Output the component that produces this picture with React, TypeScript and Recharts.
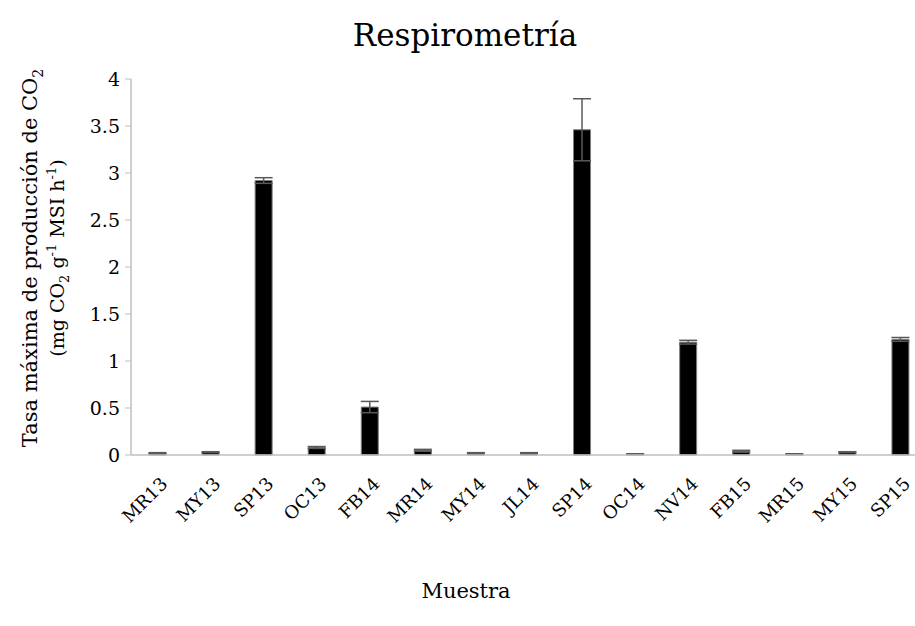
import React from 'react';
import { BarChart, Bar, XAxis, YAxis, ErrorBar } from 'recharts';

const categories = ['MR13', 'MY13', 'SP13', 'OC13', 'FB14', 'MR14', 'MY14', 'JL14', 'SP14', 'OC14', 'NV14', 'FB15', 'MR15', 'MY15', 'SP15'];
const values = [0.02, 0.03, 2.92, 0.08, 0.51, 0.05, 0.02, 0.02, 3.46, 0.01, 1.2, 0.04, 0.01, 0.03, 1.23];
const errors = [0.005, 0.005, 0.03, 0.01, 0.06, 0.01, 0.005, 0.005, 0.33, 0.003, 0.02, 0.01, 0.003, 0.005, 0.02];
const yTicks = [0, 0.5, 1, 1.5, 2, 2.5, 3, 3.5, 4];

const data = categories.map((name, i) => ({ name, value: values[i], err: errors[i] }));

const FONT = '"DejaVu Serif", serif';

// rotated category labels
const renderXTick = (props: any) => {
  const { x, y, payload } = props;
  const ax = x + 11;
  const ay = y + 22;
  return (
    <g>
      <text
        x={ax}
        y={ay}
        transform={`rotate(-45 ${ax} ${ay})`}
        textAnchor="end"
        fontFamily={FONT}
        fontSize={18}
        fill="#000"
      >
        {payload.value}
      </text>
    </g>
  );
};

export default function App() {
  return (
    <div style={{ position: 'absolute', left: 0, top: 0, width: 915, height: 626, overflow: 'hidden', background: '#fff' }}>
      <BarChart
        width={940}
        height={626}
        data={data}
        margin={{ top: 79, right: 13, bottom: 91, left: 0 }}
      >
        <XAxis
          dataKey="name"
          tick={renderXTick}
          tickLine={false}
          axisLine={{ stroke: '#bfbfbf', strokeWidth: 1.5 }}
          interval={0}
          height={80}
        />
        <YAxis
          domain={[0, 4]}
          ticks={yTicks}
          width={131}
          tickLine={{ stroke: '#bfbfbf' }}
          tickSize={6}
          axisLine={{ stroke: '#bfbfbf', strokeWidth: 1.5 }}
          tick={{ fontFamily: FONT, fontSize: 19, fill: '#000' }}
          tickMargin={5}
        />
        <Bar dataKey="value" fill="#000" stroke="#7f7f7f" strokeWidth={1} barSize={17} isAnimationActive={false}>
          <ErrorBar dataKey="err" width={9} stroke="#595959" strokeWidth={1.5} />
        </Bar>
        <text x={465} y={46} textAnchor="middle" fontFamily={FONT} fontSize={31} fill="#000">
          Respirometría
        </text>
        <text x={466} y={598} textAnchor="middle" fontFamily={FONT} fontSize={21} fill="#000">
          Muestra
        </text>
        <g transform="translate(37 258) rotate(-90)">
          <text x={0} y={0} textAnchor="middle" fontFamily={FONT} fontSize={21} fill="#000">
            Tasa máxima de producción de CO<tspan fontSize={14} dy={6}>2</tspan>
          </text>
          <text x={0} y={27} textAnchor="middle" fontFamily={FONT} fontSize={19} fill="#000">
            (mg CO<tspan fontSize={13} dy={5}>2</tspan>
            <tspan dy={-5}> g</tspan>
            <tspan fontSize={13} dy={-8}>-1</tspan>
            <tspan dy={8}> MSI h</tspan>
            <tspan fontSize={13} dy={-8}>-1</tspan>
            <tspan dy={8}>)</tspan>
          </text>
        </g>
      </BarChart>
    </div>
  );
}
